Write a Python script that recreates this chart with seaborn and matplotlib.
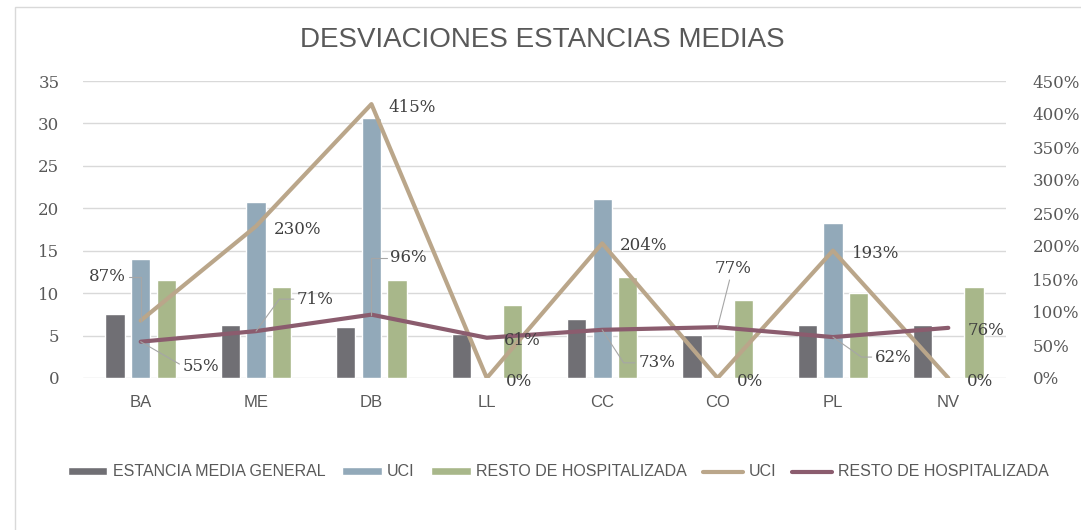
import matplotlib
matplotlib.use('Agg')
import matplotlib.pyplot as plt
import matplotlib.patches as mpatches
from matplotlib.ticker import MultipleLocator, FuncFormatter
import seaborn as sns
import pandas as pd
import numpy as np

#%% Data
categorias = ['BA', 'ME', 'DB', 'LL', 'CC', 'CO', 'PL', 'NV']
estancia_general = [7.6, 6.2, 6.0, 5.15, 6.9, 5.1, 6.2, 6.2]
estancia_uci = [14.0, 20.7, 30.6, 0, 21.05, 0, 18.3, 0]
estancia_resto = [11.6, 10.7, 11.6, 8.6, 11.9, 9.2, 10.05, 10.7]
desv_uci = [0.87, 2.30, 4.15, 0.0, 2.04, 0.0, 1.93, 0.0]
desv_resto = [0.55, 0.71, 0.96, 0.61, 0.73, 0.77, 0.62, 0.76]

series_bar = ['ESTANCIA MEDIA GENERAL', 'UCI', 'RESTO DE HOSPITALIZADA']
df = pd.DataFrame({
    'cat': categorias * 3,
    'serie': [series_bar[0]] * 8 + [series_bar[1]] * 8 + [series_bar[2]] * 8,
    'valor': estancia_general + estancia_uci + estancia_resto,
})

#%% Style
sns.set_theme(style='white')
plt.rcParams['font.family'] = ['Liberation Sans', 'DejaVu Sans']
col_gen, col_uci, col_resto = '#706f74', '#92a9b9', '#a8b78a'
col_luci, col_lresto = '#baa68a', '#8b5c6e'
txt = '#595959'
serif = 'DejaVu Serif'

fig = plt.figure(figsize=(10.81, 5.30), dpi=100)
ax1 = fig.add_axes([83 / 1081, 1 - 378 / 530, 923 / 1081, 297 / 530])
# chart border (left / top visible)
fig.patches.append(mpatches.Rectangle((15 / 1081, -0.1), 1.2, 1 - 7 / 530 + 0.1,
                                      transform=fig.transFigure, fill=False,
                                      edgecolor='#d9d9d9', lw=1))

#%% bars
sns.barplot(data=df, x='cat', y='valor', hue='serie', hue_order=series_bar,
            palette=[col_gen, col_uci, col_resto], width=0.667, gap=0.25,
            saturation=1, ax=ax1)
h1, l1 = ax1.get_legend_handles_labels()
ax1.get_legend().remove()
ax1.set_ylim(0, 35)
ax1.set_xlim(-0.5, 7.5)
ax1.yaxis.set_major_locator(MultipleLocator(5))
ax1.grid(axis='y', color='#d9d9d9', lw=1)
ax1.set_axisbelow(True)
ax1.set_xlabel('')
ax1.set_ylabel('')
for s in ax1.spines.values():
    s.set_visible(False)
ax1.tick_params(axis='x', length=0, pad=12, labelsize=12, labelcolor=txt)
ax1.tick_params(axis='y', length=0, pad=17, labelcolor=txt)
for lb in ax1.get_yticklabels():
    lb.set_family(serif)
    lb.set_fontsize(12)

#%% lines (right axis)
ax2 = ax1.twinx()
pos = np.arange(len(categorias))
sns.lineplot(x=pos, y=desv_uci, ax=ax2, color=col_luci, lw=3, label='UCI')
sns.lineplot(x=pos, y=desv_resto, ax=ax2, color=col_lresto, lw=3,
             label='RESTO DE HOSPITALIZADA')
h2, l2 = ax2.get_legend_handles_labels()
ax2.get_legend().remove()
ax2.set_ylim(0, 4.5)
ax2.set_xlim(-0.5, 7.5)
ax2.yaxis.set_major_locator(MultipleLocator(0.5))
ax2.yaxis.set_major_formatter(FuncFormatter(lambda v, p: '%d%%' % round(v * 100)))
ax2.set_ylabel('')
for s in ax2.spines.values():
    s.set_visible(False)
ax2.tick_params(axis='y', length=0, pad=19, labelcolor=txt)
for lb in ax2.get_yticklabels():
    lb.set_family(serif)
    lb.set_fontsize(12)

#%% data labels
lbl = dict(family=serif, fontsize=12, color='#404040')
lead = dict(arrowstyle='-', color='#a6a6a6', lw=0.8, shrinkA=0, shrinkB=0)
# (dx, dy, ha, angleB or None) in pixels
off_uci = [(-15, 44, 'right', 90), (18, -3, 'left', None), (17, -3, 'left', None),
           (19, -4, 'left', None), (18, -2, 'left', None), (19, -4, 'left', None),
           (19, -3, 'left', None), (19, -4, 'left', None)]
off_resto = [(42, -25, 'left', -30), (41, 32, 'left', 54), (19, 57, 'left', 90),
             (17, -3, 'left', None), (36, -33, 'left', -57), (15, 59, 'center', 'straight'),
             (42, -20, 'left', -35), (19, -3, 'left', None)]

def etiquetas(vals, offs):
    for i, (v, (dx, dy, ha, ang)) in enumerate(zip(vals, offs)):
        t = '%d%%' % round(v * 100)
        if ang is None:
            ax2.annotate(t, (i, v), xytext=(dx, dy), textcoords='offset pixels',
                         ha=ha, va='center', **lbl)
        elif ang == 'straight':
            ax2.annotate(t, (i, v), xytext=(dx, dy), textcoords='offset pixels',
                         ha=ha, va='center', arrowprops=lead, **lbl)
        else:
            ap = dict(lead, connectionstyle='angle,angleA=0,angleB=%d,rad=0' % ang)
            ax2.annotate(t, (i, v), xytext=(dx, dy), textcoords='offset pixels',
                         ha=ha, va='center', arrowprops=ap, **lbl)

etiquetas(desv_uci, off_uci)
etiquetas(desv_resto, off_resto)

#%% title + legend
fig.text(542 / 1081, 1 - 40 / 530, 'DESVIACIONES ESTANCIAS MEDIAS', ha='center',
         va='center', fontsize=20, color=txt)
fig.legend(h1 + h2, l1 + l2, loc='center', bbox_to_anchor=(558 / 1081, 1 - 472 / 530),
           ncol=5, frameon=False, fontsize=11.5, handlelength=2.5, handleheight=0.45,
           handletextpad=0.35, columnspacing=1.0, labelcolor=txt)

plt.savefig('out.png', dpi=100)
